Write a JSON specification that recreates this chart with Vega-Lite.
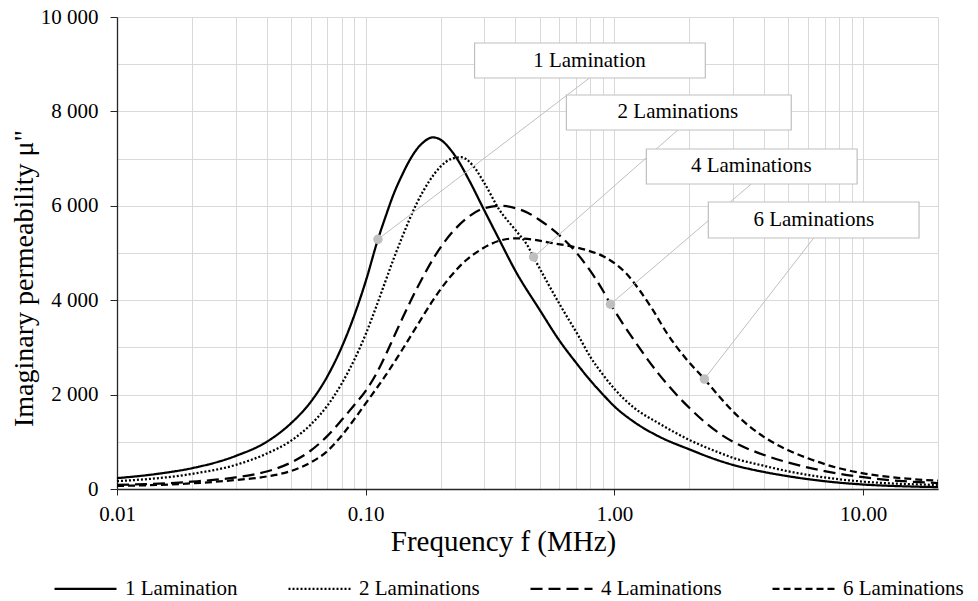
{
  "$schema": "https://vega.github.io/schema/vega-lite/v6.json",
  "width": 821,
  "height": 472,
  "autosize": {"type": "none"},
  "padding": {"left": 117, "top": 17, "right": 40, "bottom": 112},
  "background": "white",
  "config": {
    "view": {"stroke": null},
    "font": "Liberation Serif",
    "axis": {
      "labelFont": "Liberation Serif",
      "titleFont": "Liberation Serif",
      "labelFontSize": 21,
      "titleFontSize": 28,
      "titleFontWeight": "normal",
      "labelColor": "black",
      "titleColor": "black",
      "gridColor": "#d9d9d9",
      "gridWidth": 1,
      "domainColor": "#262626",
      "domainWidth": 1.3,
      "labelFlush": false,
      "labelOverlap": false
    }
  },
  "datasets": {
    "curves": [
      {"series": "1 Lamination", "f": 0.01, "mu": 230},
      {"series": "1 Lamination", "f": 0.015, "mu": 330},
      {"series": "1 Lamination", "f": 0.02, "mu": 440},
      {"series": "1 Lamination", "f": 0.03, "mu": 700},
      {"series": "1 Lamination", "f": 0.04, "mu": 1000},
      {"series": "1 Lamination", "f": 0.05, "mu": 1390},
      {"series": "1 Lamination", "f": 0.06, "mu": 1840},
      {"series": "1 Lamination", "f": 0.07, "mu": 2380},
      {"series": "1 Lamination", "f": 0.08, "mu": 3000},
      {"series": "1 Lamination", "f": 0.09, "mu": 3680},
      {"series": "1 Lamination", "f": 0.1, "mu": 4400},
      {"series": "1 Lamination", "f": 0.112, "mu": 5290},
      {"series": "1 Lamination", "f": 0.12, "mu": 5760},
      {"series": "1 Lamination", "f": 0.13, "mu": 6270},
      {"series": "1 Lamination", "f": 0.14, "mu": 6650},
      {"series": "1 Lamination", "f": 0.15, "mu": 6960},
      {"series": "1 Lamination", "f": 0.16, "mu": 7190},
      {"series": "1 Lamination", "f": 0.17, "mu": 7340},
      {"series": "1 Lamination", "f": 0.186, "mu": 7450},
      {"series": "1 Lamination", "f": 0.2, "mu": 7400},
      {"series": "1 Lamination", "f": 0.22, "mu": 7180},
      {"series": "1 Lamination", "f": 0.234, "mu": 6980},
      {"series": "1 Lamination", "f": 0.26, "mu": 6550},
      {"series": "1 Lamination", "f": 0.3, "mu": 5900},
      {"series": "1 Lamination", "f": 0.343, "mu": 5300},
      {"series": "1 Lamination", "f": 0.4, "mu": 4620},
      {"series": "1 Lamination", "f": 0.5, "mu": 3800},
      {"series": "1 Lamination", "f": 0.6, "mu": 3150},
      {"series": "1 Lamination", "f": 0.7, "mu": 2680},
      {"series": "1 Lamination", "f": 0.8, "mu": 2300},
      {"series": "1 Lamination", "f": 0.9, "mu": 2000},
      {"series": "1 Lamination", "f": 1.0, "mu": 1750},
      {"series": "1 Lamination", "f": 1.2, "mu": 1420},
      {"series": "1 Lamination", "f": 1.5, "mu": 1120},
      {"series": "1 Lamination", "f": 2.0, "mu": 840},
      {"series": "1 Lamination", "f": 2.64, "mu": 600},
      {"series": "1 Lamination", "f": 3, "mu": 510},
      {"series": "1 Lamination", "f": 4, "mu": 360},
      {"series": "1 Lamination", "f": 5, "mu": 270},
      {"series": "1 Lamination", "f": 7, "mu": 165},
      {"series": "1 Lamination", "f": 10, "mu": 95},
      {"series": "1 Lamination", "f": 15, "mu": 55},
      {"series": "1 Lamination", "f": 20, "mu": 40},
      {"series": "2 Laminations", "f": 0.01, "mu": 165},
      {"series": "2 Laminations", "f": 0.02, "mu": 320},
      {"series": "2 Laminations", "f": 0.03, "mu": 510},
      {"series": "2 Laminations", "f": 0.04, "mu": 750},
      {"series": "2 Laminations", "f": 0.05, "mu": 1020},
      {"series": "2 Laminations", "f": 0.06, "mu": 1360},
      {"series": "2 Laminations", "f": 0.07, "mu": 1760},
      {"series": "2 Laminations", "f": 0.08, "mu": 2230},
      {"series": "2 Laminations", "f": 0.09, "mu": 2740},
      {"series": "2 Laminations", "f": 0.1, "mu": 3280},
      {"series": "2 Laminations", "f": 0.11, "mu": 3850},
      {"series": "2 Laminations", "f": 0.12, "mu": 4400},
      {"series": "2 Laminations", "f": 0.13, "mu": 4900},
      {"series": "2 Laminations", "f": 0.14, "mu": 5330},
      {"series": "2 Laminations", "f": 0.16, "mu": 6040},
      {"series": "2 Laminations", "f": 0.18, "mu": 6520},
      {"series": "2 Laminations", "f": 0.2, "mu": 6830},
      {"series": "2 Laminations", "f": 0.22, "mu": 6990},
      {"series": "2 Laminations", "f": 0.242, "mu": 7030},
      {"series": "2 Laminations", "f": 0.27, "mu": 6850},
      {"series": "2 Laminations", "f": 0.3, "mu": 6480},
      {"series": "2 Laminations", "f": 0.345, "mu": 5911},
      {"series": "2 Laminations", "f": 0.4, "mu": 5487},
      {"series": "2 Laminations", "f": 0.45, "mu": 5134},
      {"series": "2 Laminations", "f": 0.473, "mu": 4915},
      {"series": "2 Laminations", "f": 0.54, "mu": 4357},
      {"series": "2 Laminations", "f": 0.61, "mu": 3863},
      {"series": "2 Laminations", "f": 0.72, "mu": 3227},
      {"series": "2 Laminations", "f": 0.8, "mu": 2800},
      {"series": "2 Laminations", "f": 0.9, "mu": 2420},
      {"series": "2 Laminations", "f": 1.0, "mu": 2120},
      {"series": "2 Laminations", "f": 1.2, "mu": 1720},
      {"series": "2 Laminations", "f": 1.5, "mu": 1400},
      {"series": "2 Laminations", "f": 2.0, "mu": 1040},
      {"series": "2 Laminations", "f": 2.64, "mu": 770},
      {"series": "2 Laminations", "f": 3, "mu": 660},
      {"series": "2 Laminations", "f": 4, "mu": 490},
      {"series": "2 Laminations", "f": 5, "mu": 375},
      {"series": "2 Laminations", "f": 7, "mu": 245},
      {"series": "2 Laminations", "f": 10, "mu": 155},
      {"series": "2 Laminations", "f": 15, "mu": 105},
      {"series": "2 Laminations", "f": 20, "mu": 85},
      {"series": "4 Laminations", "f": 0.01, "mu": 85},
      {"series": "4 Laminations", "f": 0.02, "mu": 155},
      {"series": "4 Laminations", "f": 0.03, "mu": 247},
      {"series": "4 Laminations", "f": 0.04, "mu": 370},
      {"series": "4 Laminations", "f": 0.05, "mu": 560},
      {"series": "4 Laminations", "f": 0.06, "mu": 810},
      {"series": "4 Laminations", "f": 0.07, "mu": 1120},
      {"series": "4 Laminations", "f": 0.08, "mu": 1460},
      {"series": "4 Laminations", "f": 0.09, "mu": 1780},
      {"series": "4 Laminations", "f": 0.1, "mu": 2080},
      {"series": "4 Laminations", "f": 0.11, "mu": 2430},
      {"series": "4 Laminations", "f": 0.12, "mu": 2830},
      {"series": "4 Laminations", "f": 0.13, "mu": 3230},
      {"series": "4 Laminations", "f": 0.14, "mu": 3600},
      {"series": "4 Laminations", "f": 0.16, "mu": 4230},
      {"series": "4 Laminations", "f": 0.2, "mu": 5120},
      {"series": "4 Laminations", "f": 0.25, "mu": 5700},
      {"series": "4 Laminations", "f": 0.3, "mu": 5950},
      {"series": "4 Laminations", "f": 0.35, "mu": 6000},
      {"series": "4 Laminations", "f": 0.4, "mu": 5950},
      {"series": "4 Laminations", "f": 0.45, "mu": 5850},
      {"series": "4 Laminations", "f": 0.5, "mu": 5700},
      {"series": "4 Laminations", "f": 0.6, "mu": 5380},
      {"series": "4 Laminations", "f": 0.7, "mu": 5020},
      {"series": "4 Laminations", "f": 0.8, "mu": 4620},
      {"series": "4 Laminations", "f": 0.9, "mu": 4200},
      {"series": "4 Laminations", "f": 0.964, "mu": 3915},
      {"series": "4 Laminations", "f": 1.0, "mu": 3780},
      {"series": "4 Laminations", "f": 1.2, "mu": 3150},
      {"series": "4 Laminations", "f": 1.5, "mu": 2450},
      {"series": "4 Laminations", "f": 2.0, "mu": 1720},
      {"series": "4 Laminations", "f": 2.64, "mu": 1180},
      {"series": "4 Laminations", "f": 3, "mu": 1000},
      {"series": "4 Laminations", "f": 4, "mu": 720},
      {"series": "4 Laminations", "f": 5, "mu": 560},
      {"series": "4 Laminations", "f": 7, "mu": 380},
      {"series": "4 Laminations", "f": 10, "mu": 250},
      {"series": "4 Laminations", "f": 15, "mu": 160},
      {"series": "4 Laminations", "f": 20, "mu": 127},
      {"series": "6 Laminations", "f": 0.01, "mu": 64},
      {"series": "6 Laminations", "f": 0.02, "mu": 120},
      {"series": "6 Laminations", "f": 0.03, "mu": 190},
      {"series": "6 Laminations", "f": 0.04, "mu": 265},
      {"series": "6 Laminations", "f": 0.05, "mu": 380},
      {"series": "6 Laminations", "f": 0.06, "mu": 560},
      {"series": "6 Laminations", "f": 0.07, "mu": 800},
      {"series": "6 Laminations", "f": 0.08, "mu": 1130},
      {"series": "6 Laminations", "f": 0.09, "mu": 1480},
      {"series": "6 Laminations", "f": 0.1, "mu": 1815},
      {"series": "6 Laminations", "f": 0.12, "mu": 2400},
      {"series": "6 Laminations", "f": 0.14, "mu": 2945},
      {"series": "6 Laminations", "f": 0.16, "mu": 3439},
      {"series": "6 Laminations", "f": 0.186, "mu": 3990},
      {"series": "6 Laminations", "f": 0.2175, "mu": 4480},
      {"series": "6 Laminations", "f": 0.254, "mu": 4852},
      {"series": "6 Laminations", "f": 0.296, "mu": 5099},
      {"series": "6 Laminations", "f": 0.345, "mu": 5260},
      {"series": "6 Laminations", "f": 0.403, "mu": 5311},
      {"series": "6 Laminations", "f": 0.47, "mu": 5285},
      {"series": "6 Laminations", "f": 0.548, "mu": 5220},
      {"series": "6 Laminations", "f": 0.68, "mu": 5134},
      {"series": "6 Laminations", "f": 0.77, "mu": 5064},
      {"series": "6 Laminations", "f": 0.925, "mu": 4900},
      {"series": "6 Laminations", "f": 1.114, "mu": 4569},
      {"series": "6 Laminations", "f": 1.26, "mu": 4216},
      {"series": "6 Laminations", "f": 1.425, "mu": 3800},
      {"series": "6 Laminations", "f": 1.613, "mu": 3330},
      {"series": "6 Laminations", "f": 1.94, "mu": 2760},
      {"series": "6 Laminations", "f": 2.3, "mu": 2330},
      {"series": "6 Laminations", "f": 2.64, "mu": 1960},
      {"series": "6 Laminations", "f": 3, "mu": 1640},
      {"series": "6 Laminations", "f": 4, "mu": 1100},
      {"series": "6 Laminations", "f": 5, "mu": 820},
      {"series": "6 Laminations", "f": 6, "mu": 650},
      {"series": "6 Laminations", "f": 8, "mu": 440},
      {"series": "6 Laminations", "f": 10, "mu": 332},
      {"series": "6 Laminations", "f": 15, "mu": 220},
      {"series": "6 Laminations", "f": 20, "mu": 176}
    ],
    "notes": [
      {"label": "1 Lamination", "f": 0.112, "mu": 5290, "fx": 0.794, "bx1": 0.274, "bx2": 2.32, "by1": 9449, "by2": 8708, "ty": 9078},
      {"label": "2 Laminations", "f": 0.473, "mu": 4915, "fx": 1.8, "bx1": 0.641, "bx2": 5.14, "by1": 8347, "by2": 7606, "ty": 7977},
      {"label": "4 Laminations", "f": 0.964, "mu": 3915, "fx": 3.55, "bx1": 1.344, "bx2": 9.46, "by1": 7203, "by2": 6462, "ty": 6833},
      {"label": "6 Laminations", "f": 2.3, "mu": 2330, "fx": 6.33, "bx1": 2.385, "bx2": 16.78, "by1": 6081, "by2": 5318, "ty": 5700}
    ]
  },
  "layer": [
    {
      "data": {"name": "curves"},
      "mark": {"type": "line", "strokeWidth": 2.25, "color": "black", "interpolate": "monotone"},
      "encoding": {
        "x": {
          "field": "f", "type": "quantitative",
          "scale": {"type": "log", "domain": [0.01, 20], "nice": false},
          "axis": {
            "title": "Frequency f (MHz)",
            "titleFontSize": 29,
            "values": [0.01, 0.02, 0.03, 0.04, 0.05, 0.06, 0.07, 0.08, 0.09, 0.1, 0.2, 0.3, 0.4, 0.5, 0.6, 0.7, 0.8, 0.9, 1, 2, 3, 4, 5, 6, 7, 8, 9, 10, 20],
            "labelExpr": "indexof([0.01, 0.1, 1, 10], datum.value) >= 0 ? format(datum.value, '.2f') : ''",
            "tickColor": {"condition": {"test": "indexof([0.01, 0.1, 1, 10], datum.value) >= 0", "value": "#262626"}, "value": "transparent"},
            "tickSize": 6,
            "labelPadding": 8,
            "titlePadding": 3,
            "titleX": 386,
            "titleAlign": "center"
          }
        },
        "y": {
          "field": "mu", "type": "quantitative",
          "scale": {"domain": [0, 10000], "nice": false},
          "axis": {
            "title": "Imaginary permeability μ\"",
            "values": [0, 1000, 2000, 3000, 4000, 5000, 6000, 7000, 8000, 9000, 10000],
            "labelExpr": "datum.value % 2000 === 0 ? replace(format(datum.value, ','), ',', ' ') : ''",
            "tickColor": {"condition": {"test": "datum.value % 2000 === 0", "value": "#262626"}, "value": "transparent"},
            "tickSize": 7,
            "labelPadding": 12,
            "titlePadding": 2,
            "titleY": 261,
            "titleAlign": "center"
          }
        },
        "strokeDash": {
          "field": "series", "type": "nominal",
          "scale": {
            "domain": ["1 Lamination", "2 Laminations", "4 Laminations", "6 Laminations"],
            "range": [[1, 0], [2, 2], [12, 6], [7, 4]]
          },
          "legend": {
            "orient": "none",
            "legendX": -64,
            "legendY": 539,
            "direction": "horizontal",
            "columns": 4,
            "title": null,
            "symbolType": "stroke",
            "symbolSize": 3844,
            "symbolStrokeWidth": 2.25,
            "symbolStrokeColor": "black",
            "labelFont": "Liberation Serif",
            "labelFontSize": 21,
            "labelColor": "black",
            "labelOffset": 7,
            "columnPadding": 46,
            "padding": 0
          }
        }
      }
    },
    {
      "data": {"name": "notes"},
      "mark": {"type": "rule", "color": "#bfbfbf", "strokeWidth": 1},
      "encoding": {
        "x": {"field": "f", "type": "quantitative"},
        "y": {"field": "mu", "type": "quantitative"},
        "x2": {"field": "fx"},
        "y2": {"field": "by2"}
      }
    },
    {
      "data": {"name": "notes"},
      "mark": {"type": "point", "filled": true, "color": "#bfbfbf", "size": 90, "opacity": 1},
      "encoding": {
        "x": {"field": "f", "type": "quantitative"},
        "y": {"field": "mu", "type": "quantitative"}
      }
    },
    {
      "data": {"name": "notes"},
      "mark": {"type": "rect", "fill": "white", "stroke": "#bfbfbf", "strokeWidth": 1.2},
      "encoding": {
        "x": {"field": "bx1", "type": "quantitative"},
        "x2": {"field": "bx2"},
        "y": {"field": "by1", "type": "quantitative"},
        "y2": {"field": "by2"}
      }
    },
    {
      "data": {"name": "notes"},
      "mark": {"type": "text", "font": "Liberation Serif", "fontSize": 21, "color": "black", "align": "center", "baseline": "middle"},
      "encoding": {
        "x": {"field": "fx", "type": "quantitative"},
        "y": {"field": "ty", "type": "quantitative"},
        "text": {"field": "label"}
      }
    }
  ]
}
